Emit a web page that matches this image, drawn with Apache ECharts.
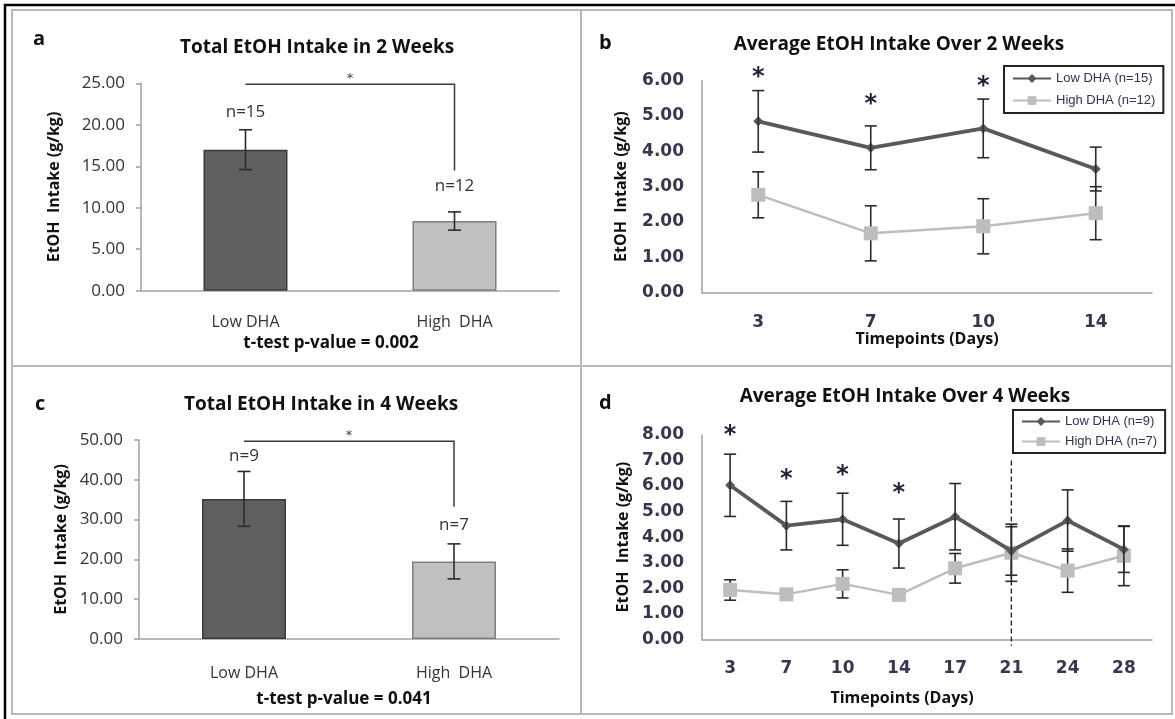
<!DOCTYPE html>
<html>
<head>
<meta charset="utf-8">
<script src="https://cdn.jsdelivr.net/npm/echarts@6/dist/echarts.min.js"></script>
<style>
html,body{margin:0;padding:0;background:#fff;}
#chart{width:1175px;height:719px;}
</style>
</head>
<body>
<div id="chart"></div>
<script>
// ---------- data ----------
const barCats = ['Low DHA', 'High  DHA'];
const total2wMean = [17.0, 8.4];
const total2wErr = [2.4, 1.1];
const total2wN = ['n=15', 'n=12'];
const total2wNPos = [21.5, 12.6];
const total2wBracket = [24.9, 14.5];
const total2wTicks = [0, 25, 5];

const total4wMean = [35.2, 19.5];
const total4wErr = [6.9, 4.4];
const total4wN = ['n=9', 'n=7'];
const total4wNPos = [46.0, 28.5];
const total4wBracket = [49.7, 33.2];
const total4wTicks = [0, 50, 10];

const days2w = ['3', '7', '10', '14'];
const low2wMean = [4.85, 4.10, 4.65, 3.50];
const low2wErr = [0.87, 0.62, 0.83, 0.62];
const high2wMean = [2.77, 1.68, 1.88, 2.25];
const high2wErr = [0.65, 0.78, 0.78, 0.75];
const star2w = [6.25, 5.5, 6.0, null];
const avg2wTicks = [0, 6, 1];

const days4w = ['3', '7', '10', '14', '17', '21', '24', '28'];
const low4wMean = [6.03, 4.45, 4.70, 3.75, 4.80, 3.46, 4.65, 3.52];
const low4wErr = [1.22, 0.95, 1.02, 0.96, 1.30, 0.95, 1.20, 0.90];
const high4wMean = [1.93, 1.76, 2.17, 1.74, 2.78, 3.39, 2.69, 3.27];
const high4wErr = [0.40, 0.10, 0.55, 0.10, 0.58, 1.12, 0.85, 1.17];
const star4w = [8.2, 6.5, 6.63, 5.94, null, null, null, null];
const avg4wTicks = [0, 8, 1];
const divider4w = [5, 7.0, -0.25]; // category index of day 21, from / to value

const seriesNames2w = ['Low DHA (n=15)', 'High DHA (n=12)'];
const seriesNames4w = ['Low DHA (n=9)', 'High DHA (n=7)'];

// ---------- styles ----------
const LOW = '#595959', HIGH = '#bdbdbd', ERR = '#2b2b2b', TXT = '#3a3232';
const AXIS = '#a0a0a0';
const F_CAL = 'Open Sans', F_ARI = 'DejaVu Sans';

function errData(m, e) { return m.map((v, i) => [i, v, e[i]]); }
function errRender(cap) {
  return function (params, api) {
    const x = api.value(0), m = api.value(1), e = api.value(2);
    const t = api.coord([x, m + e]), b = api.coord([x, m - e]);
    const st = { stroke: ERR, lineWidth: 1.6, fill: null };
    return { type: 'group', children: [
      { type: 'line', shape: { x1: t[0], y1: t[1], x2: b[0], y2: b[1] }, style: st },
      { type: 'line', shape: { x1: t[0] - cap, y1: t[1], x2: t[0] + cap, y2: t[1] }, style: st },
      { type: 'line', shape: { x1: b[0] - cap, y1: b[1], x2: b[0] + cap, y2: b[1] }, style: st }
    ]};
  };
}
function textRender(labels, font, color, dy) {
  return function (params, api) {
    const p = api.coord([api.value(0), api.value(1)]);
    return { type: 'text', x: p[0], y: p[1] + dy, style: {
      text: labels[params.dataIndex], font: font, fill: color, align: 'center', verticalAlign: 'middle' } };
  };
}
function bracketRender(params, api) {
  const top = api.value(1), drop = api.value(2);
  const a = api.coord([0, top]), b = api.coord([1, top]), c = api.coord([1, drop]);
  return { type: 'group', children: [
    { type: 'polyline', shape: { points: [a, b, c] }, style: { stroke: '#3a3a3a', lineWidth: 1.5, fill: null } },
    { type: 'text', x: (a[0] + b[0]) / 2, y: a[1] - 6, style: { text: '*', font: '13px ' + F_ARI, fill: '#444', align: 'center', verticalAlign: 'middle' } }
  ]};
}
function dividerRender(params, api) {
  const a = api.coord([api.value(0), api.value(1)]), b = api.coord([api.value(0), api.value(2)]);
  return { type: 'line', shape: { x1: a[0], y1: a[1], x2: b[0], y2: b[1] },
    style: { stroke: '#222', lineWidth: 1.3, lineDash: [5, 3] } };
}
function starData(arr) { const d = []; arr.forEach((v, i) => { if (v != null) d.push([i, v]); }); return d; }
function starLabels(arr) { return arr.filter(v => v != null).map(() => '*'); }

function barY(t, idx, gap) {
  return { type: 'value', gridIndex: idx, min: t[0], max: t[1], interval: t[2],
    name: 'EtOH  Intake (g/kg)', nameLocation: 'middle', nameGap: gap,
    nameTextStyle: { fontFamily: F_CAL, fontWeight: 'bold', fontSize: 16, color: '#111' },
    axisLine: { show: true, lineStyle: { color: AXIS, width: 1.5 } },
    axisTick: { show: true, length: 5, lineStyle: { color: AXIS, width: 1.5 } },
    splitLine: { show: false },
    axisLabel: { formatter: v => v.toFixed(2), fontFamily: F_CAL, fontSize: 17, color: TXT, margin: 16 } };
}
function lineY(t, idx, gap) {
  return { type: 'value', gridIndex: idx, min: t[0], max: t[1], interval: t[2],
    name: 'EtOH  Intake (g/kg)', nameLocation: 'middle', nameGap: gap,
    nameTextStyle: { fontFamily: F_CAL, fontWeight: 'bold', fontSize: 16, color: '#111' },
    axisLine: { show: true, lineStyle: { color: AXIS, width: 1.5 } },
    axisTick: { show: false },
    splitLine: { show: false },
    axisLabel: { formatter: v => v.toFixed(2), fontFamily: F_ARI, fontWeight: 'bold', fontSize: 17, color: '#3a3550', margin: 18 } };
}
function barX(idx, pval, gap, pad, margin) {
  return { type: 'category', gridIndex: idx, data: barCats,
    name: 't-test p-value = ' + pval, nameLocation: 'middle', nameGap: gap,
    nameTextStyle: { fontFamily: F_CAL, fontWeight: 'bold', fontSize: 17, color: '#111', padding: [0, pad, 0, 0] },
    axisLine: { lineStyle: { color: AXIS, width: 1.5 } }, axisTick: { show: false },
    axisLabel: { fontFamily: F_CAL, fontSize: 16, color: TXT, margin: margin } };
}
function lineX(idx, cats, gap, pad, margin) {
  return { type: 'category', gridIndex: idx, data: cats,
    name: 'Timepoints (Days)', nameLocation: 'middle', nameGap: gap,
    nameTextStyle: { fontFamily: F_CAL, fontWeight: 'bold', fontSize: 16, color: '#111', padding: [0, pad, 0, 0] },
    axisLine: { lineStyle: { color: AXIS, width: 1.5 } }, axisTick: { show: false },
    axisLabel: { fontFamily: F_ARI, fontWeight: 'bold', fontSize: 17, color: '#3a3550', margin: margin } };
}

const chart = echarts.init(document.getElementById('chart'), null, { renderer: 'canvas' });
const titleStyle = { fontFamily: F_CAL, fontWeight: 'bold', fontSize: 19, color: '#111' };
const letterStyle = { fontFamily: F_CAL, fontWeight: 'bold', fontSize: 20, color: '#111' };

chart.setOption({
  animation: false,
  backgroundColor: '#fff',
  title: [
    { text: 'Total EtOH Intake in 2 Weeks', left: 312, top: 33, textAlign: 'center', textStyle: titleStyle },
    { text: 'Average EtOH Intake Over 2 Weeks', left: 894, top: 30, textAlign: 'center', textStyle: titleStyle },
    { text: 'Total EtOH Intake in 4 Weeks', left: 316, top: 390, textAlign: 'center', textStyle: titleStyle },
    { text: 'Average EtOH Intake Over 4 Weeks', left: 900, top: 382, textAlign: 'center', textStyle: titleStyle },
    { text: 'a', left: 28, top: 24, textStyle: letterStyle },
    { text: 'b', left: 594, top: 28, textStyle: letterStyle },
    { text: 'c', left: 30, top: 389, textStyle: letterStyle },
    { text: 'd', left: 594, top: 388, textStyle: letterStyle }
  ],
  legend: [
    { data: seriesNames2w, orient: 'vertical', left: 1004, top: 66, padding: [6, 8, 6, 8], itemGap: 9,
      itemWidth: 38, itemHeight: 11, borderColor: '#222', borderWidth: 2, backgroundColor: '#fff',
      textStyle: { fontFamily: 'Liberation Sans', fontSize: 13, color: '#2d3550' } },
    { data: seriesNames4w, orient: 'vertical', left: 1013, top: 410, padding: [5, 8, 5, 8], itemGap: 7,
      itemWidth: 38, itemHeight: 11, borderColor: '#222', borderWidth: 2, backgroundColor: '#fff',
      textStyle: { fontFamily: 'Liberation Sans', fontSize: 13, color: '#2d3550' } }
  ],
  grid: [
    { left: 141, top: 83.3, width: 418, height: 207.4 },
    { left: 702, top: 80.7, width: 450, height: 212 },
    { left: 139, top: 440, width: 420, height: 199 },
    { left: 702, top: 435, width: 450, height: 204.3 }
  ],
  xAxis: [
    barX(0, '0.002', 44, 38, 24),
    lineX(1, days2w, 39, 0, 21),
    barX(2, '0.041', 52, 10, 26),
    lineX(3, days4w, 51, 50, 21)
  ],
  yAxis: [
    barY(total2wTicks, 0, 79),
    lineY(avg2wTicks, 1, 73),
    barY(total4wTicks, 2, 70),
    lineY(avg4wTicks, 3, 71)
  ],
  graphic: [
    { type: 'rect', shape: { x: 12, y: 10, width: 1160, height: 704 }, style: { stroke: '#b8b8b8', lineWidth: 2, fill: null }, z: -10 },
    { type: 'line', shape: { x1: 581, y1: 10, x2: 581, y2: 714 }, style: { stroke: '#b8b8b8', lineWidth: 2 }, z: -10 },
    { type: 'line', shape: { x1: 12, y1: 366, x2: 1172, y2: 366 }, style: { stroke: '#b8b8b8', lineWidth: 2 }, z: -10 },
    { type: 'line', shape: { x1: 4, y1: 5, x2: 1175, y2: 5 }, style: { stroke: '#000', lineWidth: 2.5 }, z: -10 },
    { type: 'line', shape: { x1: 5, y1: 4, x2: 5, y2: 719 }, style: { stroke: '#000', lineWidth: 2.5 }, z: -10 }
  ],
  series: [
    // ---- panel a ----
    { type: 'bar', xAxisIndex: 0, yAxisIndex: 0, barWidth: 84,
      data: total2wMean.map((v, i) => ({ value: v, itemStyle: { color: i === 0 ? '#606060' : '#c0c0c0', borderColor: i === 0 ? '#3a3a3a' : '#7f7f7f', borderWidth: 1.5 } })) },
    { type: 'custom', xAxisIndex: 0, yAxisIndex: 0, renderItem: errRender(6.5), data: errData(total2wMean, total2wErr), encode: { x: 0, y: 1 }, z: 5 },
    { type: 'custom', xAxisIndex: 0, yAxisIndex: 0, renderItem: textRender(total2wN, '17px ' + F_CAL, TXT, 0), data: total2wNPos.map((v, i) => [i, v]), encode: { x: 0, y: 1 } },
    { type: 'custom', xAxisIndex: 0, yAxisIndex: 0, renderItem: bracketRender, data: [[0, total2wBracket[0], total2wBracket[1]]], encode: { x: 0, y: 1 } },
    // ---- panel c ----
    { type: 'bar', xAxisIndex: 2, yAxisIndex: 2, barWidth: 84,
      data: total4wMean.map((v, i) => ({ value: v, itemStyle: { color: i === 0 ? '#606060' : '#c0c0c0', borderColor: i === 0 ? '#3a3a3a' : '#7f7f7f', borderWidth: 1.5 } })) },
    { type: 'custom', xAxisIndex: 2, yAxisIndex: 2, renderItem: errRender(6.5), data: errData(total4wMean, total4wErr), encode: { x: 0, y: 1 }, z: 5 },
    { type: 'custom', xAxisIndex: 2, yAxisIndex: 2, renderItem: textRender(total4wN, '17px ' + F_CAL, TXT, 0), data: total4wNPos.map((v, i) => [i, v]), encode: { x: 0, y: 1 } },
    { type: 'custom', xAxisIndex: 2, yAxisIndex: 2, renderItem: bracketRender, data: [[0, total4wBracket[0], total4wBracket[1]]], encode: { x: 0, y: 1 } },
    // ---- panel b ----
    { type: 'custom', xAxisIndex: 1, yAxisIndex: 1, renderItem: errRender(6), data: errData(high2wMean, high2wErr), encode: { x: 0, y: 1 }, z: 1 },
    { type: 'line', name: seriesNames2w[1], xAxisIndex: 1, yAxisIndex: 1, data: high2wMean, symbol: 'rect', symbolSize: 14,
      lineStyle: { color: HIGH, width: 2.5 }, itemStyle: { color: HIGH }, z: 2 },
    { type: 'line', name: seriesNames2w[0], xAxisIndex: 1, yAxisIndex: 1, data: low2wMean, symbol: 'diamond', symbolSize: 10,
      lineStyle: { color: LOW, width: 3.8 }, itemStyle: { color: LOW }, z: 3 },
    { type: 'custom', xAxisIndex: 1, yAxisIndex: 1, renderItem: errRender(6), data: errData(low2wMean, low2wErr), encode: { x: 0, y: 1 }, z: 4 },
    { type: 'custom', xAxisIndex: 1, yAxisIndex: 1, renderItem: textRender(starLabels(star2w), 'bold 24px ' + F_ARI, '#1c2238', 6), data: starData(star2w), encode: { x: 0, y: 1 } },
    // ---- panel d ----
    { type: 'custom', xAxisIndex: 3, yAxisIndex: 3, renderItem: errRender(6), data: errData(high4wMean, high4wErr), encode: { x: 0, y: 1 }, z: 1 },
    { type: 'line', name: seriesNames4w[1], xAxisIndex: 3, yAxisIndex: 3, data: high4wMean, symbol: 'rect', symbolSize: 14,
      lineStyle: { color: HIGH, width: 2.5 }, itemStyle: { color: HIGH }, z: 2 },
    { type: 'line', name: seriesNames4w[0], xAxisIndex: 3, yAxisIndex: 3, data: low4wMean, symbol: 'diamond', symbolSize: 10,
      lineStyle: { color: LOW, width: 3.8 }, itemStyle: { color: LOW }, z: 3 },
    { type: 'custom', xAxisIndex: 3, yAxisIndex: 3, renderItem: errRender(6), data: errData(low4wMean, low4wErr), encode: { x: 0, y: 1 }, z: 4 },
    { type: 'custom', xAxisIndex: 3, yAxisIndex: 3, renderItem: textRender(starLabels(star4w), 'bold 24px ' + F_ARI, '#1c2238', 6), data: starData(star4w), encode: { x: 0, y: 1 } },
    { type: 'custom', xAxisIndex: 3, yAxisIndex: 3, renderItem: dividerRender, data: [divider4w], encode: { x: 0, y: 1 }, z: 1 }
  ]
});
</script>
</body>
</html>
